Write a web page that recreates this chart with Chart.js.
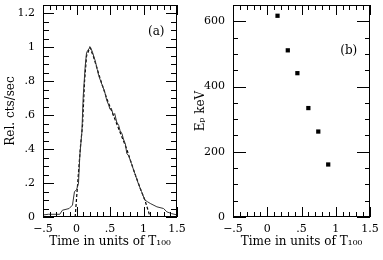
<!DOCTYPE html>
<html>
<head>
<meta charset="utf-8">
<script src="https://cdn.jsdelivr.net/npm/chart.js@4"></script>
<style>
  html, body { margin: 0; padding: 0; background: #fff; }
  #wrap { position: relative; width: 383px; height: 260px; }
  .panel { position: absolute; top: 0; height: 260px; }
  #panelA { left: 0; width: 190px; }
  #panelB { left: 190px; width: 193px; }
</style>
</head>
<body>
<div id="wrap">
  <div class="panel" id="panelA"><canvas id="chartA" width="190" height="260"></canvas></div>
  <div class="panel" id="panelB"><canvas id="chartB" width="193" height="260"></canvas></div>
</div>
<script>
// Panel (a): light curve (data, solid) and model (dashed)
const dataTime = [-0.5, -0.42, -0.25, -0.21, -0.11, -0.06, -0.03, 0.0, 0.03, 0.05, 0.08, 0.10, 0.13, 0.15,
  0.19, 0.21, 0.24, 0.28, 0.31, 0.33, 0.38, 0.42, 0.45, 0.48, 0.50, 0.52, 0.55, 0.57, 0.60, 0.63, 0.65,
  0.68, 0.70, 0.73, 0.75, 0.78, 0.82, 0.87, 0.92, 0.97, 1.02, 1.06, 1.10, 1.20, 1.30, 1.35, 1.42, 1.50];
const dataRate = [0.012, 0.016, 0.016, 0.04, 0.05, 0.07, 0.15, 0.16, 0.2, 0.365, 0.5, 0.71, 0.89, 0.97,
  0.995, 1.0, 0.97, 0.92, 0.87, 0.835, 0.78, 0.74, 0.69, 0.66, 0.635, 0.64, 0.60, 0.61, 0.56, 0.54, 0.51,
  0.49, 0.46, 0.43, 0.375, 0.36, 0.315, 0.257, 0.2, 0.15, 0.1, 0.09, 0.08, 0.06, 0.05, 0.03, 0.02, 0.012];
const modelTime = [-0.02, 0.02, 0.06, 0.09, 0.12, 0.15, 0.2, 0.25, 0.35, 0.45, 0.55, 0.65, 0.75, 0.85, 0.95, 1.02, 1.1];
const modelRate = [0, 0.21, 0.42, 0.54, 0.8, 0.95, 1.0, 0.95, 0.82, 0.70, 0.60, 0.50, 0.40, 0.28, 0.17, 0.1, 0];

// Panel (b): peak energy vs time
const epTime = [0.15, 0.30, 0.44, 0.60, 0.745, 0.89];
const epValue = [617, 511, 441, 334, 262, 161];

// Tick values and labels
const timeTicks = [-0.5, 0, 0.5, 1, 1.5];
const timeTickLabels = ['\u2212.5', '0', '.5', '1', '1.5'];
const rateTicks = [0, 0.2, 0.4, 0.6, 0.8, 1, 1.2];
const rateTickLabels = ['0', '.2', '.4', '.6', '.8', '1', '1.2'];
const epTicks = [0, 200, 400, 600];
const epTickLabels = ['0', '200', '400', '600'];

const FONT = "'DejaVu Serif', serif";

// frame box + inward ticks on all four sides + panel label
const frameTicks = {
  id: 'frameTicks',
  afterDraw(chart, args, o) {
    const { ctx, chartArea: a, scales: { x, y } } = chart;
    ctx.save();
    ctx.strokeStyle = '#000';
    ctx.lineWidth = 1;
    ctx.strokeRect(a.left + 0.5, a.top + 0.5, a.right - a.left - 1, a.bottom - a.top - 1);
    ctx.beginPath();
    const nx = Math.round((x.max - x.min) / o.xMinor);
    for (let i = 0; i <= nx; i++) {
      const v = x.min + i * o.xMinor;
      const px = Math.round(x.getPixelForValue(v)) + 0.5;
      const major = Math.abs(v / o.xMajor - Math.round(v / o.xMajor)) < 1e-6;
      const len = major ? o.xMajorLen : o.xMinorLen;
      ctx.moveTo(px, a.bottom); ctx.lineTo(px, a.bottom - len);
      ctx.moveTo(px, a.top); ctx.lineTo(px, a.top + len);
    }
    const ny = Math.floor((y.max - y.min) / o.yMinor + 1e-6);
    for (let i = 0; i <= ny; i++) {
      const v = y.min + i * o.yMinor;
      const py = Math.round(y.getPixelForValue(v)) + 0.5;
      const major = Math.abs(v / o.yMajor - Math.round(v / o.yMajor)) < 1e-6;
      const len = major ? o.yMajorLen : o.yMinorLen;
      ctx.moveTo(a.left, py); ctx.lineTo(a.left + len, py);
      ctx.moveTo(a.right, py); ctx.lineTo(a.right - len, py);
    }
    ctx.stroke();
    ctx.fillStyle = '#000';
    ctx.font = '12px ' + FONT;
    ctx.textAlign = 'center';
    ctx.textBaseline = 'middle';
    ctx.fillText(o.label, x.getPixelForValue(o.labelX), y.getPixelForValue(o.labelY));
    ctx.restore();
  }
};

function xAxis() {
  return {
    type: 'linear', min: -0.5, max: 1.5,
    afterBuildTicks: s => { s.ticks = timeTicks.map(v => ({ value: v })); },
    afterFit: s => { s.height = 43; s.paddingLeft = 0; s.paddingRight = 0; },
    grid: { display: false, drawTicks: false },
    border: { display: false },
    ticks: {
      color: '#000', font: { family: FONT, size: 11 }, padding: 6, maxRotation: 0, autoSkip: false,
      callback: v => timeTickLabels[timeTicks.indexOf(v)]
    },
    title: {
      display: true, text: 'Time in units of T\u2081\u2080\u2080', color: '#000',
      font: { family: FONT, size: 12 }, padding: { top: 0, bottom: 11 }
    }
  };
}

function yAxis(min, max, tickVals, tickLabels, titleText) {
  return {
    type: 'linear', min: min, max: max,
    afterBuildTicks: s => { s.ticks = tickVals.map(v => ({ value: v })); },
    afterFit: s => { s.width = 43; s.paddingTop = 0; s.paddingBottom = 0; },
    grid: { display: false, drawTicks: false },
    border: { display: false },
    ticks: {
      color: '#000', font: { family: FONT, size: 11 }, padding: 8, autoSkip: false,
      callback: v => tickLabels[tickVals.indexOf(v)]
    },
    title: {
      display: true, text: titleText, color: '#000',
      font: { family: FONT, size: 12 }, padding: { top: 4, bottom: 0 }
    }
  };
}

const common = {
  responsive: false,
  animation: false,
  layout: { padding: { left: 0, right: 13, top: 5, bottom: 0 } },
  plugins: { legend: { display: false }, tooltip: { enabled: false } }
};

new Chart(document.getElementById('chartA'), {
  type: 'line',
  data: {
    datasets: [
      {
        label: 'data',
        data: dataTime.map((t, i) => ({ x: t, y: dataRate[i] })),
        borderColor: '#333', borderWidth: 1, pointRadius: 0, tension: 0
      },
      {
        label: 'model',
        data: modelTime.map((t, i) => ({ x: t, y: modelRate[i] })),
        borderColor: '#000', borderWidth: 1.2, borderDash: [3, 2], pointRadius: 0, tension: 0
      }
    ]
  },
  options: {
    ...common,
    scales: {
      x: xAxis(),
      y: yAxis(0, 1.25, rateTicks, rateTickLabels, 'Rel. cts/sec')
    },
    plugins: {
      ...common.plugins,
      frameTicks: {
        xMinor: 0.1, xMajor: 0.5, xMinorLen: 5, xMajorLen: 10,
        yMinor: 0.05, yMajor: 0.2, yMinorLen: 6, yMajorLen: 11,
        label: '(a)', labelX: 1.19, labelY: 1.09
      }
    }
  },
  plugins: [frameTicks]
});

new Chart(document.getElementById('chartB'), {
  type: 'scatter',
  data: {
    datasets: [
      {
        label: 'Ep',
        data: epTime.map((t, i) => ({ x: t, y: epValue[i] })),
        backgroundColor: '#000', borderWidth: 0,
        pointStyle: 'rect', pointRadius: 3
      }
    ]
  },
  options: {
    ...common,
    scales: {
      x: xAxis(),
      y: yAxis(0, 650, epTicks, epTickLabels, 'E\u209A keV')
    },
    plugins: {
      ...common.plugins,
      frameTicks: {
        xMinor: 0.1, xMajor: 0.5, xMinorLen: 5, xMajorLen: 10,
        yMinor: 50, yMajor: 200, yMinorLen: 5, yMajorLen: 13,
        label: '(b)', labelX: 1.19, labelY: 509
      }
    }
  },
  plugins: [frameTicks]
});
</script>
</body>
</html>
